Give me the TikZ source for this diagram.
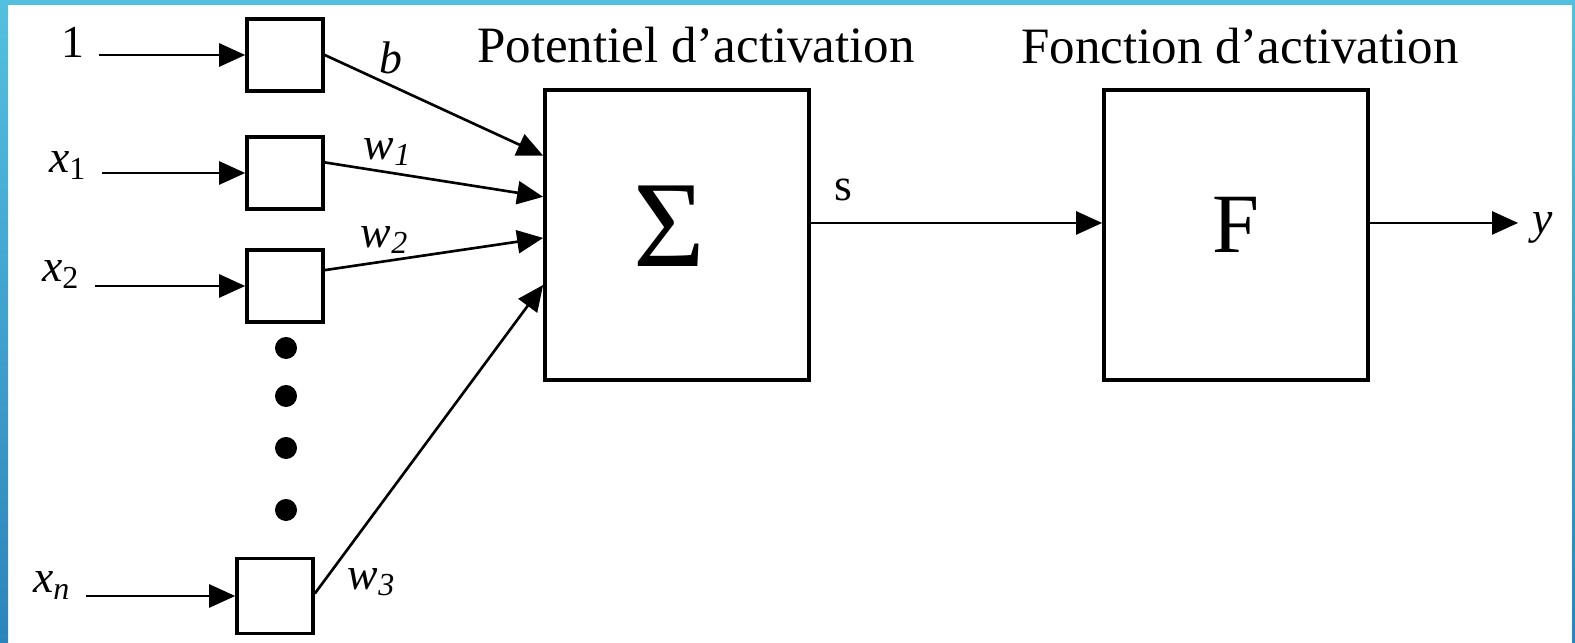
\documentclass[tikz,border=0pt]{standalone}
\usepackage{fontspec}
\setmainfont{Liberation Serif}
\usepackage{xcolor}
\usetikzlibrary{arrows.meta,positioning,calc}

\definecolor{slideblue}{RGB}{84,192,224}
\definecolor{slidedeep}{RGB}{44,132,188}

\tikzset{
	inbox/.style={draw, line width=1pt, fill=white, minimum width=0.76cm, minimum height=0.72cm, inner sep=0pt},
	bigbox/.style={draw, line width=1pt, fill=white, minimum width=2.64cm, minimum height=2.9cm, inner sep=0pt},
	wire/.style={line width=0.75pt, -{Triangle[length=2.6mm,width=2.3mm]}},
	lab/.style={font=\fontsize{13}{15}\selectfont, inner xsep=4pt, inner ysep=1pt},
	heading/.style={font=\fontsize{14.5}{17}\selectfont, inner sep=0pt},
}

\begin{document}
\begin{tikzpicture}[x=0.01cm, y=-0.01cm]
		
		\useasboundingbox (0,0) rectangle (1575,643);
		
		% slide frame
		\shade[top color=slideblue, bottom color=slidedeep] (0,0) rectangle (8,643);
		\fill[slideblue] (0,0) rectangle (1575,5);
		\shade[top color=slideblue, bottom color=slidedeep] (1572,0) rectangle (1575,643);
		
		% entries
		\node[inbox] (e0) at (285,55) {};
		\node[inbox] (e1) at (285,173) {};
		\node[inbox] (e2) at (285,286) {};
		\node[inbox, minimum height=0.75cm] (en) at (275,596) {};
		
		\node[lab, anchor=base east] (l0) at (99,58) {1};
		\node[lab, anchor=base east] (l1) at (102,173) {\textit{x}\textsubscript{1}};
		\node[lab, anchor=base east] (l2) at (95,282) {\textit{x}\textsubscript{2}};
		\node[lab, anchor=base east] (ln) at (86,593) {\textit{x}\textsubscript{\textit{n}}};
		
		\foreach \y in {348,396,448,510}
			\fill (286,\y) circle[radius=0.11cm];
		
		% blocks
		\node[bigbox, label={[font=\fontsize{35}{37}\selectfont, xshift=-0.08cm, yshift=0.09cm]center:Σ}] (S) at (677,235) {};
		\node[bigbox, label={[font=\fontsize{24}{26}\selectfont, yshift=0.1cm]center:F}] (F) at (1236,235) {};
		
		\node[heading, anchor=base] (tS) at (696,63) {Potentiel d’activation};
		\node[heading, anchor=base] (tF) at (1240,64) {Fonction d’activation};
		
		% weights
		\node[lab] (wb) at (391,58) {\textit{b}};
		\node[lab] (w1) at (388,152) {\textit{w}\textsubscript{\textit{1}}};
		\node[lab] (w2) at (385,240) {\textit{w}\textsubscript{\textit{2}}};
		\node[lab] (w3) at (372,582) {\textit{w}\textsubscript{\textit{3}}};
		\node[lab] (s) at (843,190) {s};
		\node[lab] (y) at (1543,228) {\textit{y}};
		
		% connectors
		\foreach \i in {0,1,2,n}
			\draw[wire] (l\i.east |- e\i) -- (e\i);
		
		\draw[wire] (e0.east) -- ($(S.north west)!0.23!(S.south west)$);
		\draw[wire] ($(e1.north east)!0.36!(e1.south east)$) -- ($(S.north west)!0.37!(S.south west)$);
		\draw[wire] ($(e2.north east)!0.29!(e2.south east)$) -- ($(S.north west)!0.51!(S.south west)$);
		\draw[wire] ($(en.north east)!0.47!(en.south east)$) -- ($(S.north west)!0.67!(S.south west)$);
		
		\draw[wire] ($(S.north east)!0.459!(S.south east)$) -- ($(F.north west)!0.459!(F.south west)$);
		\draw[wire] ($(F.north east)!0.459!(F.south east)$) -- (y.west |- {$(F.north east)!0.459!(F.south east)$});
		
	\end{tikzpicture}
\end{document}
